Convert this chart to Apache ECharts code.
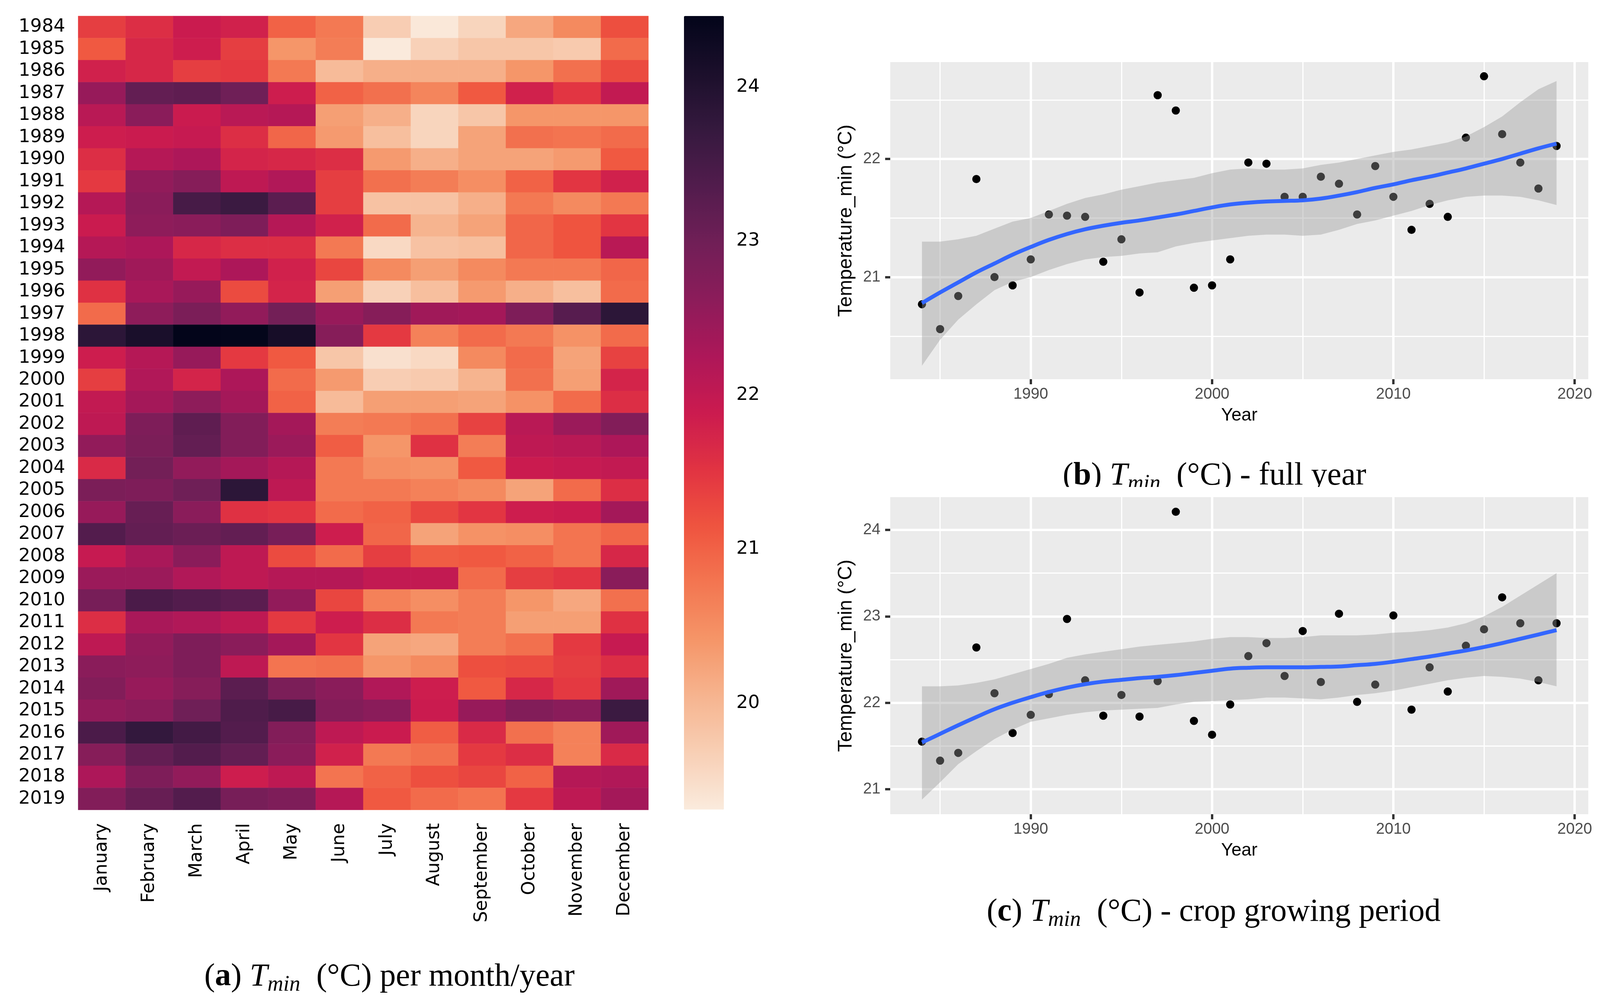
<!DOCTYPE html>
<html><head><meta charset="utf-8">
<style>html,body{margin:0;padding:0;background:#fff}#c{width:4107px;height:2571px}</style>
<script src="https://cdn.jsdelivr.net/npm/echarts@6/dist/echarts.min.js"></script>
</head><body><div id="c"></div>
<script>
const months=['January','February','March','April','May','June','July','August','September','October','November','December'];
const heatYears=[1984,1985,1986,1987,1988,1989,1990,1991,1992,1993,1994,1995,1996,1997,1998,1999,2000,2001,2002,2003,2004,2005,2006,2007,2008,2009,2010,2011,2012,2013,2014,2015,2016,2017,2018,2019];
const heatRows=[
[21.4,21.6,21.9,21.8,21.0,20.75,19.7,19.35,19.6,20.2,20.55,21.2],
[21.1,21.7,21.85,21.4,20.4,20.7,19.32,19.65,19.8,19.8,19.75,20.9],
[21.8,21.7,21.4,21.45,20.75,19.95,20.1,20.1,20.1,20.4,20.85,21.25],
[22.5,23.15,23.2,23.0,21.85,21.0,20.85,20.6,21.1,21.8,21.5,22.0],
[22.1,22.65,21.9,22.1,22.15,20.3,20.1,19.6,19.8,20.4,20.4,20.4],
[21.85,21.9,21.95,21.6,20.95,20.35,19.9,19.6,20.25,20.85,20.8,20.9],
[21.6,22.15,22.25,21.75,21.7,21.6,20.35,20.1,20.25,20.25,20.35,21.1],
[21.45,22.55,22.7,22.05,22.2,21.4,20.85,20.7,20.5,21.0,21.5,21.8],
[22.15,22.65,23.5,23.65,23.25,21.4,19.85,19.85,20.1,20.75,20.55,20.75],
[21.9,22.6,22.65,22.8,22.15,21.8,20.9,20.05,20.25,20.95,21.15,21.5],
[22.15,22.25,21.7,21.6,21.6,20.75,19.55,19.85,19.9,20.95,21.15,22.1],
[22.55,22.4,22.0,22.25,21.8,21.3,20.55,20.3,20.55,20.75,20.75,20.95],
[21.55,22.3,22.5,21.25,21.75,20.3,19.65,19.9,20.35,20.1,19.9,20.9],
[20.9,22.6,22.85,22.55,22.95,22.5,22.7,22.4,22.35,22.8,23.3,23.85],
[23.85,24.1,24.46,24.44,24.15,22.7,21.45,20.65,20.9,20.75,20.45,20.9],
[21.85,22.15,22.5,21.45,21.1,19.8,19.45,19.55,20.55,20.9,20.25,21.35],
[21.4,22.2,21.75,22.25,20.9,20.35,19.7,19.75,20.05,20.85,20.3,21.75],
[22.0,22.35,22.6,22.35,21.0,19.95,20.3,20.3,20.25,20.45,20.9,21.6],
[22.05,22.8,23.2,22.75,22.35,20.7,20.75,20.85,21.35,22.1,22.45,22.75],
[22.55,22.85,23.15,22.75,22.45,21.05,20.4,21.55,20.7,22.05,22.1,22.25],
[21.65,22.95,22.55,22.35,22.15,20.75,20.5,20.45,21.1,21.9,21.95,22.0],
[22.85,22.8,23.0,23.85,22.05,20.75,20.75,20.65,20.55,20.25,20.9,21.6],
[22.5,23.1,22.65,21.55,21.5,20.9,21.0,21.3,21.5,21.85,21.9,22.35],
[23.35,23.15,23.05,23.15,22.9,21.85,20.95,20.25,20.45,20.5,20.8,20.95],
[21.95,22.3,22.65,22.05,21.25,20.9,21.4,21.05,21.1,21.0,20.8,21.7],
[22.45,22.45,22.2,22.05,22.15,22.15,22.0,22.0,20.9,21.4,21.5,22.65],
[22.9,23.45,23.35,23.25,22.55,21.3,20.65,20.5,20.7,20.4,20.2,20.85],
[21.6,22.3,22.2,22.05,21.45,21.85,21.6,20.75,20.7,20.3,20.3,21.55],
[22.05,22.55,22.8,22.65,22.35,21.5,20.25,20.2,20.7,20.85,21.45,21.95],
[22.65,22.6,22.8,22.05,20.8,20.85,20.4,20.55,21.2,21.25,21.4,21.6],
[22.75,22.5,22.7,23.25,22.85,22.65,22.2,21.85,21.1,21.7,21.45,22.4],
[22.55,22.65,23.0,23.4,23.5,22.75,22.65,21.9,22.5,22.75,22.65,23.65],
[23.45,23.75,23.55,23.35,22.75,22.05,21.9,21.05,21.65,20.85,20.65,22.4],
[22.7,23.15,23.35,23.15,22.65,21.8,20.75,20.85,21.45,21.6,20.65,21.65],
[22.25,22.8,22.55,21.85,22.05,20.8,21.0,21.2,21.3,21.0,22.15,22.2],
[22.75,23.1,23.35,22.9,22.8,22.15,21.1,20.9,20.8,21.45,22.05,22.35]
];
const rocketStops=['#faebdd','#f8cfb5','#f6b48f','#f59568','#f37651','#ef543f','#e13342','#cb1b4f','#ad1759','#8c1c5a','#701f57','#521c4d','#35193e','#1b0f2b','#03051a'];
const colorTicks=[20,21,22,23,24];

const years=[1984,1985,1986,1987,1988,1989,1990,1991,1992,1993,1994,1995,1996,1997,1998,1999,2000,2001,2002,2003,2004,2005,2006,2007,2008,2009,2010,2011,2012,2013,2014,2015,2016,2017,2018,2019];
const fullPoints=[20.77,20.56,20.84,21.83,21.0,20.93,21.15,21.53,21.52,21.51,21.13,21.32,20.87,22.54,22.41,20.91,20.93,21.15,21.97,21.96,21.68,21.68,21.85,21.79,21.53,21.94,21.68,21.40,21.62,21.51,22.18,22.70,22.21,21.97,21.75,22.11];
const fullSmooth=[20.78,20.87,20.955,21.04,21.115,21.19,21.255,21.315,21.365,21.405,21.435,21.46,21.48,21.505,21.53,21.56,21.59,21.615,21.63,21.64,21.645,21.65,21.665,21.69,21.72,21.755,21.785,21.82,21.85,21.885,21.92,21.96,22.0,22.045,22.09,22.13];
const fullUpper=[21.30,21.30,21.32,21.35,21.41,21.47,21.50,21.56,21.62,21.67,21.70,21.74,21.77,21.80,21.82,21.84,21.88,21.91,21.92,21.91,21.91,21.92,21.95,21.97,22.00,22.03,22.06,22.08,22.11,22.14,22.19,22.27,22.36,22.48,22.59,22.66];
const fullLower=[20.25,20.47,20.64,20.77,20.89,20.96,21.00,21.06,21.11,21.15,21.17,21.18,21.20,21.21,21.26,21.29,21.31,21.33,21.35,21.36,21.36,21.35,21.36,21.40,21.45,21.48,21.52,21.56,21.61,21.65,21.68,21.69,21.69,21.68,21.65,21.61];
const cropPoints=[21.55,21.33,21.42,22.64,22.11,21.65,21.86,22.10,22.97,22.26,21.85,22.09,21.84,22.25,24.21,21.79,21.63,21.98,22.54,22.69,22.31,22.83,22.24,23.03,22.01,22.21,23.01,21.92,22.41,22.13,22.66,22.85,23.22,22.92,22.26,22.92];
const cropSmooth=[21.54,21.64,21.74,21.835,21.925,22.0,22.065,22.125,22.175,22.215,22.245,22.265,22.285,22.30,22.32,22.345,22.37,22.395,22.405,22.41,22.41,22.41,22.415,22.42,22.435,22.45,22.475,22.505,22.535,22.57,22.605,22.645,22.69,22.74,22.79,22.84];
const cropUpper=[22.19,22.19,22.20,22.23,22.27,22.33,22.39,22.45,22.52,22.56,22.59,22.62,22.65,22.67,22.69,22.71,22.74,22.76,22.76,22.75,22.75,22.76,22.78,22.78,22.78,22.79,22.81,22.82,22.84,22.87,22.92,23.00,23.11,23.24,23.37,23.50];
const cropLower=[20.88,21.08,21.29,21.44,21.58,21.69,21.78,21.82,21.86,21.89,21.91,21.92,21.93,21.94,21.98,22.01,22.02,22.03,22.04,22.06,22.06,22.05,22.04,22.06,22.09,22.11,22.14,22.18,22.22,22.26,22.29,22.31,22.30,22.28,22.24,22.19];
const xMajor=[1990,2000,2010,2020];
const xMinor=[1985,1995,2005,2015];
const fullYMajor=[21,22];
const fullYMinor=[20.5,21.5,22.5];
const cropYMajor=[21,22,23,24];
const cropYMinor=[21.5,22.5,23.5];

const heatData=[];
heatRows.forEach((r,i)=>r.forEach((v,j)=>heatData.push([j,i,v])));

const SANS='Liberation Sans', DJV='DejaVu Sans', SERIF='Liberation Serif';
const grids=[],xAxes=[],yAxes=[],series=[];

// heatmap
grids.push({left:200,top:41,width:1460,height:2033});
xAxes.push({type:'category',gridIndex:0,data:months,position:'bottom',
  axisLine:{show:false},axisTick:{alignWithLabel:true,length:16,lineStyle:{color:'#000',width:6}},
  axisLabel:{rotate:90,interval:0,margin:34,fontFamily:DJV,fontSize:46,color:'#000'},splitLine:{show:false}});
yAxes.push({type:'category',gridIndex:0,data:heatYears,inverse:true,
  axisLine:{show:false},axisTick:{alignWithLabel:true,length:16,lineStyle:{color:'#000',width:6}},
  axisLabel:{interval:0,margin:33,fontFamily:DJV,fontSize:47,color:'#000',padding:[6,0,0,0]},splitLine:{show:false}});
series.push({type:'heatmap',xAxisIndex:0,yAxisIndex:0,data:heatData,itemStyle:{borderWidth:0},progressive:0,silent:true,emphasis:{disabled:true}});

// colour bar axis
grids.push({left:1751,top:41,width:102,height:2032});
xAxes.push({type:'value',gridIndex:1,min:0,max:1,show:false});
yAxes.push({type:'value',gridIndex:1,position:'right',min:19.31,max:24.46,
  axisLine:{show:false},splitLine:{show:false},
  axisTick:{show:true,length:16,customValues:colorTicks,lineStyle:{color:'#000',width:6}},
  axisLabel:{margin:32,customValues:colorTicks,fontFamily:DJV,fontSize:47,color:'#000',padding:[6,0,0,0]}});

function addPanel(top,height,yMin,yMax,yMajor,yMinor,points,smooth,upper,lower){
  const g=grids.length;
  grids.push({left:2279,top,width:1787,height,show:true,backgroundColor:'#ebebeb',borderWidth:0});
  const xi=xAxes.length, yi=yAxes.length;
  const xExt={min:1982.25,max:2020.75}, yExt={min:yMin,max:yMax};
  // minor grid axes
  xAxes.push({type:'value',gridIndex:g,...xExt,position:'bottom',axisLine:{show:false},axisLabel:{show:false},
    axisTick:{show:false,customValues:xMinor},splitLine:{show:true,lineStyle:{color:'#fff',width:3}}});
  yAxes.push({type:'value',gridIndex:g,...yExt,position:'left',axisLine:{show:false},axisLabel:{show:false},
    axisTick:{show:false,customValues:yMinor},splitLine:{show:true,lineStyle:{color:'#fff',width:3}}});
  // major axes
  xAxes.push({type:'value',gridIndex:g,...xExt,position:'bottom',name:'Year',nameLocation:'middle',nameGap:70,
    nameTextStyle:{fontFamily:SANS,fontSize:46,color:'#000'},axisLine:{show:false},
    axisTick:{show:true,length:13,customValues:xMajor,lineStyle:{color:'#333',width:6}},
    axisLabel:{margin:19,customValues:xMajor,fontFamily:SANS,fontSize:40,color:'#4d4d4d',formatter:v=>String(v)},
    splitLine:{show:true,lineStyle:{color:'#fff',width:6}}});
  yAxes.push({type:'value',gridIndex:g,...yExt,position:'left',name:'Temperature_min (°C)',nameLocation:'middle',nameGap:88,nameRotate:90,
    nameTextStyle:{fontFamily:SANS,fontSize:50,color:'#000'},axisLine:{show:false},
    axisTick:{show:true,length:13,customValues:yMajor,lineStyle:{color:'#333',width:6}},
    axisLabel:{margin:25,customValues:yMajor,fontFamily:SANS,fontSize:40,color:'#4d4d4d'},
    splitLine:{show:true,lineStyle:{color:'#fff',width:6}}});
  const a={xAxisIndex:xi+1,yAxisIndex:yi+1,silent:true};
  series.push({...a,type:'scatter',z:2,symbolSize:21,itemStyle:{color:'#000',opacity:1},data:years.map((y,i)=>[y,points[i]])});
  series.push({...a,type:'custom',z:3,clip:true,encode:{x:0,y:[1,2]},data:years.map((y,i)=>[y,lower[i],upper[i]]),
    renderItem:(params,api)=>{
      if(params.dataIndex!==0) return null;
      const top=years.map((y,i)=>api.coord([y,upper[i]]));
      const bot=years.map((y,i)=>api.coord([y,lower[i]])).reverse();
      return {type:'polygon',shape:{points:top.concat(bot)},style:{fill:'rgba(153,153,153,0.4)'}};
    }});
  series.push({...a,type:'line',z:4,smooth:0.4,symbol:'none',lineStyle:{color:'#3366ff',width:10},data:years.map((y,i)=>[y,smooth[i]])});
}
addPanel(159,812,20.136,22.82,fullYMajor,fullYMinor,fullPoints,fullSmooth,fullUpper,fullLower);
addPanel(1273,812,20.71,24.38,cropYMajor,cropYMinor,cropPoints,cropSmooth,cropUpper,cropLower);

const capRich={b:{fontFamily:SERIF,fontWeight:'bold',fontSize:82,color:'#000',lineHeight:96},
  i:{fontFamily:SERIF,fontWeight:'normal',fontStyle:'italic',fontSize:82,color:'#000',lineHeight:96},
  s:{fontFamily:SERIF,fontWeight:'normal',fontStyle:'italic',fontSize:56,color:'#000',verticalAlign:'bottom',lineHeight:74},
  n:{fontFamily:SERIF,fontWeight:'normal',fontSize:82,color:'#000',lineHeight:96}};
const caption=(x,y,letter,rest)=>({left:x,top:y,textAlign:'center',textVerticalAlign:'middle',padding:0,
  text:`{n|(}{b|${letter}}{n|) }{i|T}{s|min}{n|  ${rest}}`,textStyle:{rich:capRich,fontFamily:SERIF,fontSize:82,fontWeight:'normal'}});

const option={
  backgroundColor:'#fff',animation:false,
  title:[caption(997,2502,'a','(°C) per month/year'),caption(3109,1219,'b','(°C) - full year'),caption(3107,2336,'c','(°C) - crop growing period')],
  grid:grids,xAxis:xAxes,yAxis:yAxes,series,
  visualMap:{type:'continuous',seriesIndex:0,min:19.31,max:24.46,calculable:false,hoverLink:false,realtime:false,
    left:1751,top:41,itemWidth:102,itemHeight:2032,padding:0,text:null,showLabel:false,
    inRange:{color:rocketStops}},
  graphic:[{type:'rect',z:100,shape:{x:2200,y:1247,width:1907,height:26},style:{fill:'#fff'},silent:true}]
};
const chart=echarts.init(document.getElementById('c'),null,{renderer:'canvas',width:4107,height:2571});
chart.setOption(option);
</script></body></html>
